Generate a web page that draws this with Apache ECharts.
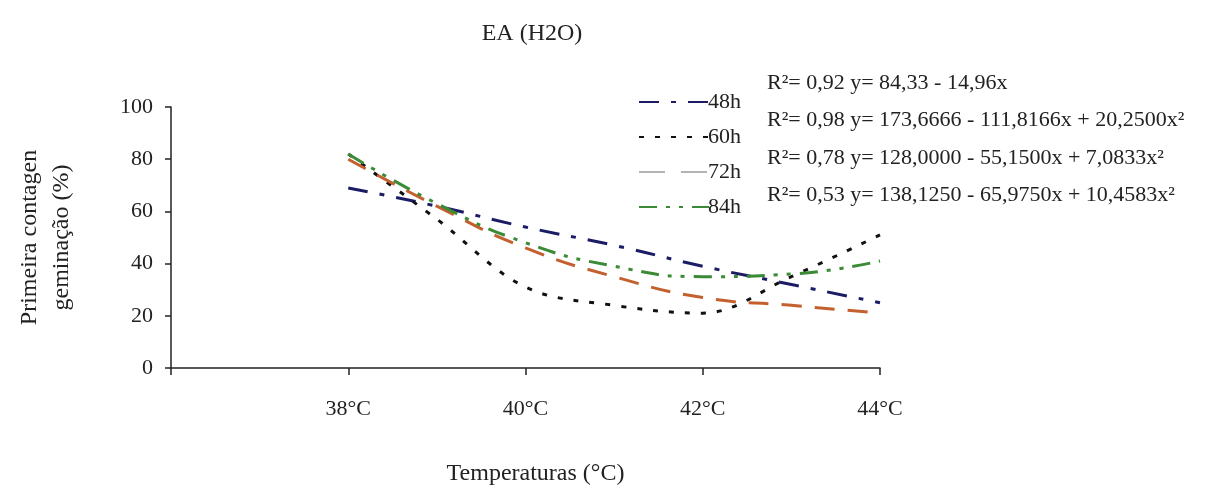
<!DOCTYPE html>
<html>
<head>
<meta charset="utf-8">
<script src="https://cdn.jsdelivr.net/npm/echarts@6/dist/echarts.min.js"></script>
<style>
  html, body { margin: 0; padding: 0; background: #fff; }
  #chart { width: 1215px; height: 488px; }
</style>
</head>
<body>
<div id="chart"></div>
<script>
// temperatures (°C)
var temps = [38, 39, 40, 41, 42, 43, 44];
var xLabels = { 38: '38°C', 40: '40°C', 42: '42°C', 44: '44°C' };
var yTicks = [0, 20, 40, 60, 80, 100];

// values
var h48 = [69, 62, 54, 47, 39, 32, 25];
var h60 = [82, 57, 31, 24, 21, 35, 51];
var h72 = [80, 62, 46, 35, 27, 24, 21];
var h84 = [82, 63, 48, 39, 35, 36, 41];

var names = ['48h', '60h', '72h', '84h'];
var equations = [
  'R²= 0,92 y= 84,33 - 14,96x',
  'R²= 0,98 y= 173,6666 - 111,8166x + 20,2500x²',
  'R²= 0,78 y= 128,0000 - 55,1500x + 7,0833x²',
  'R²= 0,53 y= 138,1250 - 65,9750x + 10,4583x²'
];

var font = '"Liberation Serif", "Times New Roman", serif';

function pairs(vals) {
  return temps.map(function (t, i) { return [t, vals[i]]; });
}

var noDot = { opacity: 0 };

var option = {
  backgroundColor: '#fff',
  animation: false,
  title: {
    text: 'EA (H2O)',
    left: 527,
    top: 17,
    textAlign: 'center',
    textStyle: { fontFamily: font, fontSize: 24, fontWeight: 'normal', color: '#222' }
  },
  legend: {
    orient: 'vertical',
    left: 633,
    top: 86,
    itemWidth: 70,
    itemHeight: 6,
    itemGap: 13,
    textStyle: { fontFamily: font, fontSize: 22, lineHeight: 22, color: '#222', padding: [0, 0, 0, -6] },
    data: [
      { name: '48h', itemStyle: noDot },
      { name: '60h', itemStyle: noDot },
      { name: '72h', itemStyle: noDot, lineStyle: { color: '#9a9a9a', width: 1.5, type: [26, 16] } },
      { name: '84h', itemStyle: noDot }
    ]
  },
  grid: { left: 171, right: 335, top: 107, bottom: 120, outerBoundsMode: 'none', containLabel: false },
  xAxis: {
    type: 'value',
    min: 36,
    max: 44,
    interval: 2,
    name: 'Temperaturas (°C)',
    nameLocation: 'middle',
    nameGap: 94,
    nameTextStyle: { fontFamily: font, fontSize: 24, color: '#222', padding: [0, 0, 0, 20] },
    axisLine: { lineStyle: { color: '#222', width: 1.5 } },
    axisTick: { length: 7, lineStyle: { color: '#222', width: 1.5 } },
    axisLabel: {
      margin: 30,
      fontFamily: font, fontSize: 22, color: '#222',
      formatter: function (v) { return xLabels[v] || ''; }
    },
    splitLine: { show: false }
  },
  yAxis: {
    type: 'value',
    min: yTicks[0],
    max: yTicks[yTicks.length - 1],
    interval: 20,
    name: 'Primeira contagen\ngeminação (%)',
    nameLocation: 'middle',
    nameGap: 93,
    nameRotate: 90,
    nameTextStyle: { fontFamily: font, fontSize: 24, lineHeight: 32, color: '#222' },
    axisLine: { show: true, lineStyle: { color: '#222', width: 1.5 } },
    axisTick: { show: true, length: 6, lineStyle: { color: '#222', width: 1.5 } },
    axisLabel: { margin: 18, fontFamily: font, fontSize: 22, color: '#222' },
    splitLine: { show: false }
  },
  graphic: equations.map(function (txt, i) {
    return {
      type: 'text',
      left: 767,
      top: 72 + i * 37.5,
      style: { text: txt, font: '22px ' + font, fill: '#222' }
    };
  }),
  series: [
    {
      name: names[0], type: 'line', smooth: true, symbol: 'none',
      data: pairs(h48),
      lineStyle: { color: '#1c1c66', width: 3, type: [20, 12, 5, 12] },
      itemStyle: { color: '#1c1c66' }
    },
    {
      name: names[1], type: 'line', smooth: 0.35, symbol: 'none',
      data: pairs(h60),
      lineStyle: { color: '#111', width: 3, type: [5, 11] },
      itemStyle: { color: '#111' }
    },
    {
      name: names[2], type: 'line', smooth: true, symbol: 'none',
      data: pairs(h72),
      lineStyle: { color: '#c4602e', width: 3, type: [20, 13] },
      itemStyle: { color: '#c4602e' }
    },
    {
      name: names[3], type: 'line', smooth: true, symbol: 'none',
      data: pairs(h84),
      lineStyle: { color: '#3a8a36', width: 3, type: [18, 9, 4, 9, 4, 9] },
      itemStyle: { color: '#3a8a36' }
    }
  ]
};

var myChart = echarts.init(document.getElementById('chart'));
myChart.setOption(option);
</script>
</body>
</html>
